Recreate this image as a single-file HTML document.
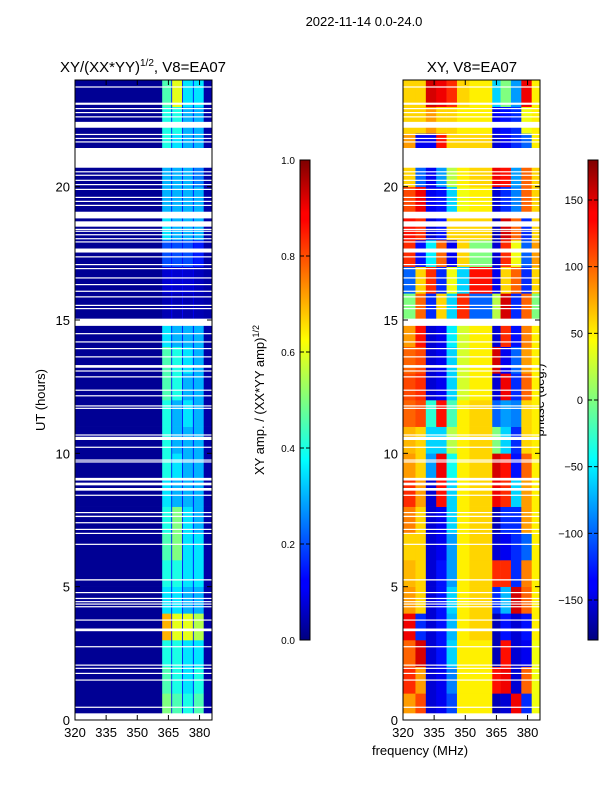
<!DOCTYPE html>
<html><head><meta charset="utf-8"><style>
body{margin:0;background:#fff;}
svg text{font-family:"Liberation Sans",sans-serif;}
</style></head><body>
<svg id="fig" width="600" height="800" xmlns="http://www.w3.org/2000/svg">
<rect width="600" height="800" fill="#fff"/>
<text x="364" y="26" font-size="13" text-anchor="middle">2022-11-14 0.0-24.0</text>
<text x="143" y="72" font-size="15" text-anchor="middle">XY/(XX*YY)<tspan font-size="10" dy="-6">1/2</tspan><tspan dy="6">, V8=EA07</tspan></text>
<text x="472" y="72" font-size="15" text-anchor="middle">XY, V8=EA07</text>
<text x="45" y="400" font-size="13" text-anchor="middle" transform="rotate(-90 45 400)">UT (hours)</text>
<text x="420" y="755" font-size="13" text-anchor="middle">frequency (MHz)</text>
<text x="264" y="400" font-size="13" text-anchor="middle" transform="rotate(-90 264 400)">XY amp. / (XX*YY amp)<tspan font-size="9" dy="-5">1/2</tspan></text>
<text x="544" y="400" font-size="13" text-anchor="middle" transform="rotate(-90 544 400)">phase (deg.)</text>
<defs>
<linearGradient id="jet" x1="0" y1="1" x2="0" y2="0">
<stop offset="0" stop-color="#00007f"/><stop offset="0.11" stop-color="#0000ff"/><stop offset="0.125" stop-color="#0000ff"/>
<stop offset="0.34" stop-color="#00dbff"/><stop offset="0.375" stop-color="#00ffff"/><stop offset="0.5" stop-color="#7fff7f"/>
<stop offset="0.625" stop-color="#ffff00"/><stop offset="0.66" stop-color="#ffdb00"/><stop offset="0.875" stop-color="#ff0000"/><stop offset="0.89" stop-color="#ff0000"/><stop offset="1" stop-color="#7f0000"/>
</linearGradient>
</defs>
<g id="left"></g>
<g id="right"></g>
<g id="axes"></g>
</svg>
<script>
// ---- data ----
const timeRows = [0,1,2,3,4,5,6,7,8,9,10,11,12,13,14,15,16,17,18,19,20,21,22,23];
const ampFreqEdges = [320,362,366.4,366.8,371.6,372,376.8,377.2,382,386];
const ampBright = [
[.5,.45,.4,.45],[.45,.4,.35,.4],[.4,.4,.35,.35],[.7,.6,.6,.55],[.35,.35,.3,.3],
[.4,.4,.35,.35],[.45,.5,.35,.35],[.4,.5,.35,.3],[.35,.3,.3,.3],[.4,.35,.3,.3],
[.4,.3,.3,.3],[.4,.3,.35,.3],[.45,.4,.3,.3],[.45,.4,.35,.3],[.35,.3,.3,.3],
[.05,.05,.05,.05],[.08,.08,.08,.06],[.2,.2,.2,.15],[.35,.3,.3,.3],[.3,.3,.3,.3],
[.3,.3,.3,.25],[.4,.35,.3,.3],[.4,.4,.3,.3],[.45,.6,.35,.35]];
const ampBackground = 0.02;
const ampGap = 0.12;
const phaseFreqEdges = [320,326,331,336,341,346,352,363,367,372,377,382,386];
const phaseValues = [
[80,110,-150,-140,-110,50,50,-160,-150,140,-120,40],
[120,80,-150,-140,-90,50,50,130,140,-150,100,40],
[100,150,-150,-130,-60,50,50,-160,130,-150,-140,40],
[140,-120,-150,-130,-70,50,60,-160,-130,-150,-130,50],
[80,60,-150,-130,-60,50,60,-120,-70,150,100,50],
[70,60,-150,-130,-80,50,60,120,120,-120,90,50],
[60,60,-150,-140,-80,50,60,-150,-140,-120,-100,50],
[90,60,-150,-140,-60,50,60,-160,-120,-120,80,50],
[120,80,-150,130,-60,50,60,140,120,-60,80,50],
[80,60,-80,140,-40,50,60,150,130,-130,100,50],
[70,60,-60,-60,20,50,60,0,-60,-120,60,50],
[100,110,-30,130,-20,50,60,-100,-80,-90,60,50],
[110,120,-150,-140,-60,30,50,-150,140,-120,100,50],
[100,110,-150,-140,-60,30,50,150,-140,-100,80,50],
[80,130,-150,-140,-50,30,50,-150,120,-130,90,50],
[0,100,-120,60,-60,120,-100,20,150,-120,100,0],
[-100,60,120,-120,40,-60,130,-140,60,100,-120,60],
[120,-130,-50,100,-140,60,0,-150,120,40,-100,80],
[130,120,-150,-130,60,60,60,-160,150,100,-120,60],
[110,140,-140,-130,-60,40,50,-150,-120,-90,100,60],
[60,-100,-140,-80,20,50,60,140,130,-80,100,60],
[80,-140,-140,130,60,60,60,-150,-140,-120,-100,50],
[60,60,80,60,60,50,50,-140,-130,-120,40,50],
[60,60,150,140,120,60,50,-60,0,-80,140,50]];
const flagStart = [0,0.46,1.48,1.73,1.92,2.04,2.73,3.33,3.73,4.23,4.33,4.42,4.54,4.76,5.23,6.57,6.98,7.13,7.38,7.61,7.76,8.41,8.6,8.8,8.98,9.66,9.73,10.21,10.5,10.67,11.67,11.76,12.14,12.35,12.85,13.07,13.21,13.6,13.91,14.16,14.47,14.78,15.41,15.53,15.85,16.06,16.31,16.56,16.91,17.06,17.35,17.53,17.91,18.03,18.18,18.31,18.38,18.5,18.81,19.28,19.43,19.58,19.88,20.06,20.22,20.41,20.54,20.71,21.66,21.79,21.94,22.21,22.6,22.76,22.91,23.07,23.72];
const flagEnd   = [0.25,0.5,1.52,1.77,1.96,2.08,2.77,3.43,3.77,4.27,4.37,4.46,4.58,4.8,5.28,6.61,7.02,7.17,7.42,7.66,7.8,8.45,8.7,8.9,9.08,9.7,9.77,10.25,10.62,10.71,11.71,11.8,12.18,12.39,12.89,13.11,13.31,13.64,13.95,14.2,14.51,15.05,15.45,15.57,15.89,16.1,16.35,16.6,16.95,17.1,17.39,17.68,17.95,18.07,18.22,18.35,18.42,18.7,19.06,19.32,19.47,19.62,19.92,20.1,20.26,20.45,20.58,21.45,21.7,21.83,21.98,22.43,22.64,22.8,22.95,23.15,23.76];
const yTicks = [0,5,10,15,20];
const xTicks = [320,335,350,365,380];
const ampTicks = [0.0,0.2,0.4,0.6,0.8,1.0];
const phaseTicks = [-150,-100,-50,0,50,100,150];

// ---- scales ----
const NS="http://www.w3.org/2000/svg";
const Y0=720, Y1=80, T0=0, T1=24;
const yS = h => Y0 - (h-T0)/(T1-T0)*(Y0-Y1);
function xS(x0,x1){ return f => x0 + (f-320)/(386-320)*(x1-x0); }
const xL = xS(75,212), xR = xS(403,540);
function jet(t){
  t=Math.max(0,Math.min(1,t));
  const c=v=>Math.round(255*Math.max(0,Math.min(1,v)));
  return `rgb(${c(1.5-Math.abs(4*t-3))},${c(1.5-Math.abs(4*t-2))},${c(1.5-Math.abs(4*t-1))})`;
}
function mk(tag,attrs,parent){const e=document.createElementNS(NS,tag);for(const k in attrs)e.setAttribute(k,attrs[k]);parent.appendChild(e);return e;}
const gl=document.getElementById('left'), gr=document.getElementById('right'), ga=document.getElementById('axes');

timeRows.forEach((h,i)=>{
  const vals=[ampBackground,ampBright[i][0],ampGap,ampBright[i][1],ampGap,ampBright[i][2],ampGap,ampBright[i][3],ampBackground+0.02];
  for(let j=0;j<vals.length;j++){
    const x0=xL(ampFreqEdges[j]), x1=xL(ampFreqEdges[j+1]);
    const r=mk('rect',{x:x0,y:yS(h+1),width:x1-x0+0.3,height:yS(h)-yS(h+1)+0.3,fill:jet(vals[j])},gl);
    
    
  }
});
timeRows.forEach((h,i)=>{
  for(let j=0;j<phaseValues[i].length;j++){
    const x0=xR(phaseFreqEdges[j]), x1=xR(phaseFreqEdges[j+1]);
    const r=mk('rect',{x:x0,y:yS(h+1),width:x1-x0+0.3,height:yS(h)-yS(h+1)+0.3,fill:jet((phaseValues[i][j]+180)/360)},gr);
    
    
  }
});
flagStart.forEach((s,k)=>{
  [[75,212],[403,540]].forEach(p=>{
    const r=mk('rect',{x:p[0],y:yS(flagEnd[k]),width:p[1]-p[0],height:Math.max(1.2,yS(s)-yS(flagEnd[k])),fill:'#fff'},ga);
    
    
  });
});
[[75,212,'left'],[403,540,'right']].forEach(p=>{
  const fr=mk('rect',{x:p[0],y:80,width:p[1]-p[0],height:640,fill:'none',stroke:'#000','stroke-width':1},ga);
  
  
  const xs=xS(p[0],p[1]);
  yTicks.forEach(t=>{
    const y=yS(t);
    mk('line',{x1:p[0],x2:p[0]+5,y1:y,y2:y,stroke:'#000'},ga);
    mk('line',{x1:p[1],x2:p[1]-5,y1:y,y2:y,stroke:'#000'},ga);
    const tx=mk('text',{x:p[0]-5,y:y+5,'font-size':13,'text-anchor':'end'},ga);
    tx.textContent=t;
    
    
  });
  xTicks.forEach(t=>{
    const x=xs(t);
    mk('line',{x1:x,x2:x,y1:720,y2:715,stroke:'#000'},ga);
    mk('line',{x1:x,x2:x,y1:80,y2:85,stroke:'#000'},ga);
    const tx=mk('text',{x:x,y:737,'font-size':13,'text-anchor':'middle'},ga);
    tx.textContent=t;
    
    
  });
});
[[300,'amp',ampTicks,0,1,v=>v.toFixed(1),10],[588,'phase',phaseTicks,-180,180,v=>v<0?'\u2212'+(-v):''+v,11]].forEach(c=>{
  const cb=mk('rect',{x:c[0],y:160,width:10,height:480,fill:'url(#jet)',stroke:'#000','stroke-width':1},ga);
  
  
  c[2].forEach(t=>{
    const y=640-(t-c[3])/(c[4]-c[3])*480;
    mk('line',{x1:c[0]+10,x2:c[0]+6,y1:y,y2:y,stroke:'#000'},ga);
    mk('line',{x1:c[0],x2:c[0]+4,y1:y,y2:y,stroke:'#000'},ga);
    const tx=mk('text',{x:c[0]-5,y:y+4,'font-size':c[6],'text-anchor':'end'},ga);
    tx.textContent=c[5](t);
    
    
  });
});
</script>
</body></html>
